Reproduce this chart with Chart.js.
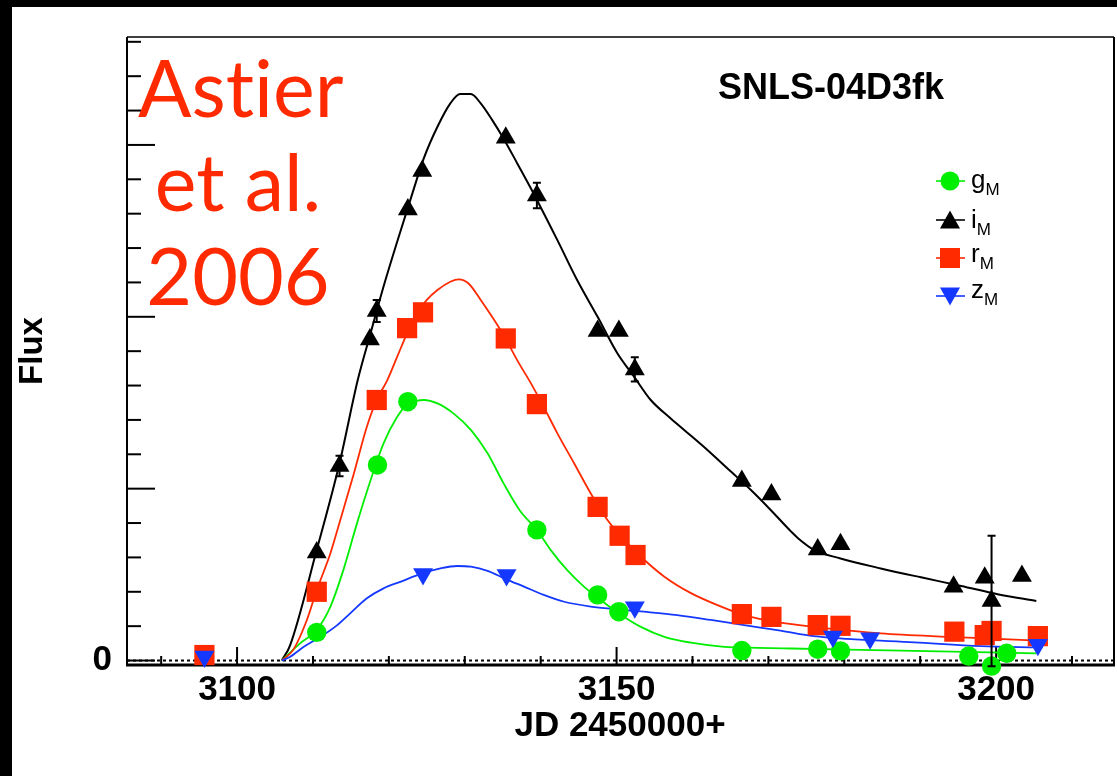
<!DOCTYPE html>
<html>
<head>
<meta charset="utf-8">
<script src="https://cdn.jsdelivr.net/npm/chart.js@4.4.1/dist/chart.umd.min.js"></script>
<style>
html,body{margin:0;padding:0;background:#fff;}
body{width:1117px;height:776px;position:relative;overflow:hidden;font-family:"Liberation Sans",Arial,sans-serif;}
#c{position:absolute;left:0;top:0;}
.blk{position:absolute;background:#000;}
#astier{position:absolute;left:138px;top:40px;width:200px;text-align:center;font-family:Lato,"Open Sans",sans-serif;font-size:79px;line-height:94px;color:#ff2a00;white-space:nowrap;font-variant-ligatures:none;font-feature-settings:"liga" 0;}
#ttl{position:absolute;left:718px;top:69px;font-weight:bold;font-size:36px;line-height:1;color:#000;white-space:nowrap;}
.leg{position:absolute;font-size:26px;line-height:1;color:#000;white-space:nowrap;}
.leg sub{font-size:17px;vertical-align:-7px;line-height:1;}
.lsym{position:absolute;}
</style>
</head>
<body>
<canvas id="c" width="1117" height="776"></canvas>
<div class="blk" style="left:0;top:0;width:1117px;height:7px"></div>
<div class="blk" style="left:0;top:0;width:12px;height:776px"></div>
<div id="astier">Astier<br>et al.<br>2006</div>
<div id="ttl">SNLS-04D3fk</div>
<div id="legend"></div>
<script>
// ---------- data ----------
// measured points: JD - 2450000 and flux (arbitrary units)
const gDays = [3110.5,3118.5,3122.5,3139.5,3147.5,3150.3,3166.5,3176.5,3179.5,3196.4,3199.4,3201.4];
const gFlux = [0.82,5.69,7.53,3.80,1.91,1.42,0.29,0.33,0.28,0.13,-0.16,0.21];

const iDays = [3110.5,3113.5,3117.5,3118.4,3122.5,3124.4,3135.4,3139.5,3147.5,3150.3,3152.4,3166.5,3170.4,3176.5,3179.5,3194.4,3198.5,3199.4,3203.4];
const iFlux = [3.14,5.66,9.34,10.17,13.12,14.24,15.21,13.53,9.59,9.59,8.47,5.22,4.83,3.23,3.38,2.15,2.41,1.73,2.46];
const iErr  = [0,0.30,0,0.32,0,0,0,0.37,0,0,0.35,0,0,0,0,0,0,1.9,0];

const rDays = [3095.7,3110.5,3118.4,3122.4,3124.5,3135.4,3139.5,3147.5,3150.4,3152.5,3166.5,3170.4,3176.5,3179.5,3194.5,3198.5,3199.4,3205.5];
const rFlux = [0.16,2.00,7.58,9.67,10.13,9.37,7.46,4.47,3.63,3.07,1.35,1.27,1.03,1.01,0.84,0.74,0.86,0.71];

const zDays = [3095.7,3124.5,3135.5,3152.4,3178.5,3183.4,3205.5];
const zFlux = [0.12,2.52,2.49,1.55,0.70,0.65,0.46];

// fitted light-curve models
const iFitDays = [3105.9,3107.0,3110.5,3113.5,3115.9,3117.6,3119.3,3121.3,3122.8,3124.6,3126.4,3128.1,3129.4,3130.8,3132.1,3133.6,3135.1,3136.9,3138.7,3142.2,3144.8,3147.5,3150.1,3152.3,3154.5,3157.1,3158.9,3162.0,3165.1,3167.7,3170.3,3173.0,3173.9,3176.0,3179.5,3184.8,3190.1,3195.4,3200.2,3205.3];
const iFitFlux = [0,0.45,3.22,5.74,8.16,9.53,10.88,12.33,13.38,14.61,15.53,16.21,16.48,16.48,16.21,15.73,15.19,14.47,13.74,12.23,11.07,10.00,8.94,8.26,7.58,7.05,6.71,6.12,5.49,4.96,4.38,3.75,3.56,3.22,2.97,2.68,2.42,2.17,1.93,1.73];

const rFitDays = [3105.9,3107.4,3109.2,3110.5,3112.3,3113.6,3115.4,3117.1,3118.4,3119.8,3121.1,3122.4,3123.7,3125.0,3126.4,3128.1,3129.2,3130.5,3132.1,3133.6,3135.1,3136.9,3138.7,3140.4,3142.2,3144.4,3146.6,3148.8,3151.0,3153.2,3156.3,3159.8,3163.3,3166.8,3171.6,3176.0,3184.8,3193.6,3200.2,3205.9];
const rFitFlux = [0,0.31,1.18,2.05,3.12,4.09,5.45,6.80,7.58,8.16,8.84,9.52,10.10,10.49,10.78,11.02,11.09,10.97,10.49,10.00,9.47,8.74,8.07,7.38,6.61,5.74,4.86,4.09,3.51,3.02,2.44,1.96,1.61,1.32,1.10,0.98,0.79,0.69,0.63,0.57];

const gFitDays = [3105.9,3108.3,3110.5,3112.3,3114.0,3115.8,3117.6,3119.3,3121.1,3122.5,3123.7,3124.6,3126.4,3128.5,3130.8,3133.0,3135.1,3137.3,3139.5,3141.3,3143.5,3145.7,3147.9,3150.3,3153.2,3156.3,3159.8,3164.2,3168.6,3173.0,3187.5,3205.3];
const gFitFlux = [0,0.50,0.89,1.57,2.63,3.99,5.25,6.32,7.09,7.48,7.56,7.58,7.48,7.19,6.71,6.03,5.16,4.35,3.80,3.22,2.63,2.15,1.76,1.37,0.98,0.69,0.52,0.40,0.37,0.35,0.29,0.21];

const zFitDays = [3105.9,3107.0,3108.8,3111.0,3113.2,3114.9,3117.1,3119.3,3121.5,3124.5,3126.8,3129.0,3130.8,3133.0,3135.4,3137.8,3140.4,3143.1,3146.6,3150.1,3153.6,3158.0,3162.4,3166.8,3171.6,3176.0,3180.4,3189.2,3198.0,3205.5];
const zFitFlux = [0,0.11,0.40,0.69,1.03,1.37,1.81,2.10,2.29,2.54,2.68,2.75,2.73,2.61,2.37,2.15,1.91,1.71,1.57,1.49,1.42,1.32,1.18,1.03,0.87,0.71,0.63,0.53,0.42,0.38];

// axes
const xTicks = [3090,3100,3110,3120,3130,3140,3150,3160,3170,3180,3190,3200,3210];
const xLabelled = [3100,3150,3200];
const yTicks = [0,1,2,3,4,5,6,7,8,9,10,11,12,13,14,15,16,17,18];
const yLabelled = [0];
const xTitle = 'JD 2450000+';
const yTitle = 'Flux';

// legend entries: band letter, subscript
const legendBands = ['g','i','r','z'];
const legendSub = 'M';

// ---------- styles ----------
const GREEN = '#00ee00', BLACK = '#000000', RED = '#ff2a00', BLUE = '#1438ff';
const FONT = '"Liberation Sans", Arial, sans-serif';

const pts = (xs, ys) => xs.map((x, k) => ({x: x, y: ys[k]}));

function markerSet(label, xs, ys, color, style, radius, rot, order) {
  return {label, data: pts(xs, ys), showLine: false, pointStyle: style, pointRadius: radius,
    pointHoverRadius: radius, pointRotation: rot, pointBackgroundColor: color, pointBorderColor: color,
    pointBorderWidth: 0, backgroundColor: color, borderColor: color, order, clip: false};
}
function fitSet(label, xs, ys, color, width, order) {
  return {label, data: pts(xs, ys), showLine: true, pointRadius: 0, pointHoverRadius: 0,
    borderColor: color, borderWidth: width, backgroundColor: color, cubicInterpolationMode: 'monotone',
    order, fill: false};
}

const rootStyle = {
  id: 'rootStyle',
  beforeDatasetsDraw(chart) {
    const {ctx, chartArea: a, scales: {x, y}} = chart;
    ctx.save();
    ctx.strokeStyle = '#000';
    // dotted zero line
    const y0 = y.getPixelForValue(0);
    ctx.setLineDash([3, 3]);
    ctx.lineWidth = 2;
    ctx.beginPath(); ctx.moveTo(a.left, y0); ctx.lineTo(a.right, y0); ctx.stroke();
    ctx.setLineDash([]);
    // inward tick marks
    ctx.lineWidth = 2;
    x.ticks.forEach(t => {
      const px = x.getPixelForValue(t.value);
      const len = t.value % 50 === 0 ? 18 : 9;
      ctx.beginPath(); ctx.moveTo(px, a.bottom); ctx.lineTo(px, a.bottom - len); ctx.stroke();
    });
    y.ticks.forEach(t => {
      const py = y.getPixelForValue(t.value);
      const len = t.value % 5 === 0 ? 28 : 14;
      ctx.beginPath(); ctx.moveTo(a.left, py); ctx.lineTo(a.left + len, py); ctx.stroke();
    });
    // frame
    ctx.lineWidth = 1.6;
    ctx.beginPath(); ctx.moveTo(a.left, a.top); ctx.lineTo(a.right + 1, a.top); ctx.stroke();
    ctx.lineWidth = 2;
    ctx.beginPath(); ctx.moveTo(a.left, a.top); ctx.lineTo(a.left, a.bottom); ctx.stroke();
    ctx.beginPath(); ctx.moveTo(a.right + 1, a.top); ctx.lineTo(a.right + 1, a.bottom); ctx.stroke();
    ctx.lineWidth = 3;
    ctx.beginPath(); ctx.moveTo(a.left - 1, a.bottom); ctx.lineTo(a.right + 2, a.bottom); ctx.stroke();
    ctx.restore();
  },
  afterDatasetsDraw(chart) {
    const {ctx, scales: {x, y}} = chart;
    ctx.save();
    ctx.strokeStyle = '#000';
    ctx.lineWidth = 2;
    iDays.forEach((d, k) => {
      const e = iErr[k];
      if (!e) return;
      const px = x.getPixelForValue(d);
      const pt = y.getPixelForValue(iFlux[k] + e);
      const pb = y.getPixelForValue(iFlux[k] - e);
      ctx.beginPath(); ctx.moveTo(px, pt); ctx.lineTo(px, pb); ctx.stroke();
      ctx.beginPath(); ctx.moveTo(px - 4, pt); ctx.lineTo(px + 4, pt);
      ctx.moveTo(px - 4, pb); ctx.lineTo(px + 4, pb); ctx.stroke();
    });
    ctx.restore();
  }
};

new Chart(document.getElementById('c'), {
  type: 'scatter',
  data: {
    datasets: [
      markerSet('zM', zDays, zFlux, BLUE, 'triangle', 11.5, 180, 0),
      markerSet('rM', rDays, rFlux, RED, 'rect', 14.3, 0, 1),
      markerSet('iM', iDays, iFlux, BLACK, 'triangle', 11.5, 0, 2),
      markerSet('gM', gDays, gFlux, GREEN, 'circle', 9.7, 0, 3),
      fitSet('z fit', zFitDays, zFitFlux, BLUE, 1.8, 4),
      fitSet('r fit', rFitDays, rFitFlux, RED, 1.8, 5),
      fitSet('g fit', gFitDays, gFitFlux, GREEN, 1.8, 6),
      fitSet('i fit', iFitDays, iFitFlux, BLACK, 2, 7)
    ]
  },
  options: {
    responsive: false,
    animation: false,
    devicePixelRatio: 1,
    events: [],
    layout: {autoPadding: false, padding: {top: 37, right: 4, left: 0, bottom: 0}},
    plugins: {legend: {display: false}, tooltip: {enabled: false}, title: {display: false}},
    scales: {
      x: {
        type: 'linear', min: 3085.5, max: 3215.4,
        afterFit(s) { s.height = 111; s.paddingLeft = 0; s.paddingRight = 0; },
        afterBuildTicks(s) { s.ticks = xTicks.map(v => ({value: v})); },
        grid: {display: false, drawTicks: false, tickLength: 0},
        border: {display: false},
        ticks: {autoSkip: false, maxRotation: 0, padding: 4, color: '#000',
          font: {family: FONT, size: 35, weight: 'bold'},
          callback: v => xLabelled.includes(v) ? String(v) : ''},
        title: {display: true, text: xTitle, color: '#000', padding: {top: 0, bottom: 29},
          font: {family: FONT, size: 35, weight: 'bold'}}
      },
      y: {
        type: 'linear', min: -0.13, max: 18.14,
        afterFit(s) { s.width = 127; s.paddingTop = 0; s.paddingBottom = 0; },
        afterBuildTicks(s) { s.ticks = yTicks.map(v => ({value: v})); },
        grid: {display: false, drawTicks: false, tickLength: 0},
        border: {display: false},
        ticks: {autoSkip: false, padding: 15, color: '#000',
          font: {family: FONT, size: 35, weight: 'bold'},
          callback: v => yLabelled.includes(v) ? String(v) : ''},
        title: {display: true, text: yTitle, color: '#000', padding: {top: 13, bottom: 0},
          font: {family: FONT, size: 33, weight: 'bold'}}
      }
    }
  },
  plugins: [rootStyle]
});

// ---------- legend (HTML, with subscripts) ----------
const legendColors = {g: GREEN, i: BLACK, r: RED, z: BLUE};
const legendRowY = [181, 220, 258, 296];
const legendBase = [188, 228, 262, 298];
function symbolSVG(band, color) {
  let shape;
  if (band === 'g') shape = `<circle cx="16" cy="12" r="9.5" fill="${color}"/>`;
  else if (band === 'i') shape = `<polygon points="16,2.5 26,20.5 6,20.5" fill="${color}"/>`;
  else if (band === 'r') shape = `<rect x="6" y="2" width="20" height="20" fill="${color}"/>`;
  else shape = `<polygon points="6,3.5 26,3.5 16,21.5" fill="${color}"/>`;
  return `<svg width="32" height="24" viewBox="0 0 32 24"><line x1="2" y1="12" x2="31" y2="12" stroke="${color}" stroke-width="1.6"/>${shape}</svg>`;
}
const legendEl = document.getElementById('legend');
legendBands.forEach((b, k) => {
  const s = document.createElement('div');
  s.className = 'lsym';
  s.style.left = '934px';
  s.style.top = (legendRowY[k] - 12) + 'px';
  s.innerHTML = symbolSVG(b, legendColors[b]);
  legendEl.appendChild(s);
  const t = document.createElement('div');
  t.className = 'leg';
  t.style.left = '971px';
  t.style.top = (legendBase[k] - 22) + 'px';
  t.innerHTML = b + '<sub>' + legendSub + '</sub>';
  legendEl.appendChild(t);
});
</script>
</body>
</html>
